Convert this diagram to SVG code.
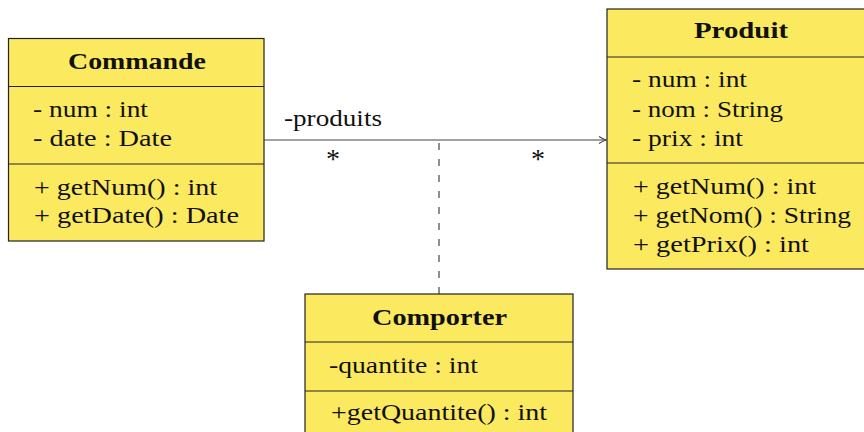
<svg xmlns="http://www.w3.org/2000/svg" width="864" height="432" viewBox="0 0 864 432">
<defs>
<style>
.box{fill:#fbea60;stroke:#222;stroke-width:1.2}
.div{stroke:#222;stroke-width:1.2}
text{font-family:"Liberation Serif","DejaVu Serif",serif;font-size:23px;fill:#111}
.title{font-weight:bold;text-anchor:middle}
.conn{stroke:#444;stroke-width:1.2;fill:none}
.star{text-anchor:middle;font-size:28px}
</style>
<marker id="arr" markerWidth="10" markerHeight="10" refX="8" refY="5" orient="auto" markerUnits="userSpaceOnUse">
<path d="M1,1.5 Q5,4 8,5 Q5,6 1,8.5" fill="none" stroke="#444" stroke-width="1.2"/>
</marker>
</defs>
<rect width="864" height="432" fill="#fff"/>
<g id="connectors">
<line class="conn" x1="264" y1="140" x2="606" y2="140" marker-end="url(#arr)"/>
<line class="conn" x1="439" y1="143" x2="439" y2="294" stroke-dasharray="7 9"/>
<text x="284" y="126" textLength="98" lengthAdjust="spacingAndGlyphs">-produits</text>
<text class="star" x="333" y="168">*</text>
<text class="star" x="538" y="168">*</text>
</g>
<g id="Commande">
<rect class="box" x="8.5" y="38.5" width="255.5" height="202.5"/>
<line class="div" x1="8.5" y1="86.5" x2="264" y2="86.5"/>
<line class="div" x1="8.5" y1="164" x2="264" y2="164"/>
<text class="title" x="137" y="69" textLength="138" lengthAdjust="spacingAndGlyphs">Commande</text>
<text x="33" y="117" textLength="115" lengthAdjust="spacingAndGlyphs">- num : int</text>
<text x="33" y="146" textLength="139" lengthAdjust="spacingAndGlyphs">- date : Date</text>
<text x="34" y="195" textLength="183" lengthAdjust="spacingAndGlyphs">+ getNum() : int</text>
<text x="34" y="223" textLength="205" lengthAdjust="spacingAndGlyphs">+ getDate() : Date</text>
</g>
<g id="Produit">
<rect class="box" x="607" y="9" width="268" height="260"/>
<line class="div" x1="607" y1="57" x2="875" y2="57"/>
<line class="div" x1="607" y1="163" x2="875" y2="163"/>
<text class="title" x="741" y="38" textLength="94" lengthAdjust="spacingAndGlyphs">Produit</text>
<text x="632" y="87" textLength="115" lengthAdjust="spacingAndGlyphs">- num : int</text>
<text x="632" y="117" textLength="151" lengthAdjust="spacingAndGlyphs">- nom : String</text>
<text x="632" y="146" textLength="111" lengthAdjust="spacingAndGlyphs">- prix : int</text>
<text x="633" y="194" textLength="183" lengthAdjust="spacingAndGlyphs">+ getNum() : int</text>
<text x="633" y="223" textLength="218" lengthAdjust="spacingAndGlyphs">+ getNom() : String</text>
<text x="633" y="252" textLength="176" lengthAdjust="spacingAndGlyphs">+ getPrix() : int</text>
</g>
<g id="Comporter">
<rect class="box" x="305" y="294" width="268" height="150"/>
<line class="div" x1="305" y1="342" x2="573" y2="342"/>
<line class="div" x1="305" y1="391" x2="573" y2="391"/>
<text class="title" x="439.5" y="325" textLength="135" lengthAdjust="spacingAndGlyphs">Comporter</text>
<text x="329" y="373" textLength="149" lengthAdjust="spacingAndGlyphs">-quantite : int</text>
<text x="331" y="420" textLength="216" lengthAdjust="spacingAndGlyphs">+getQuantite() : int</text>
</g>
</svg>
